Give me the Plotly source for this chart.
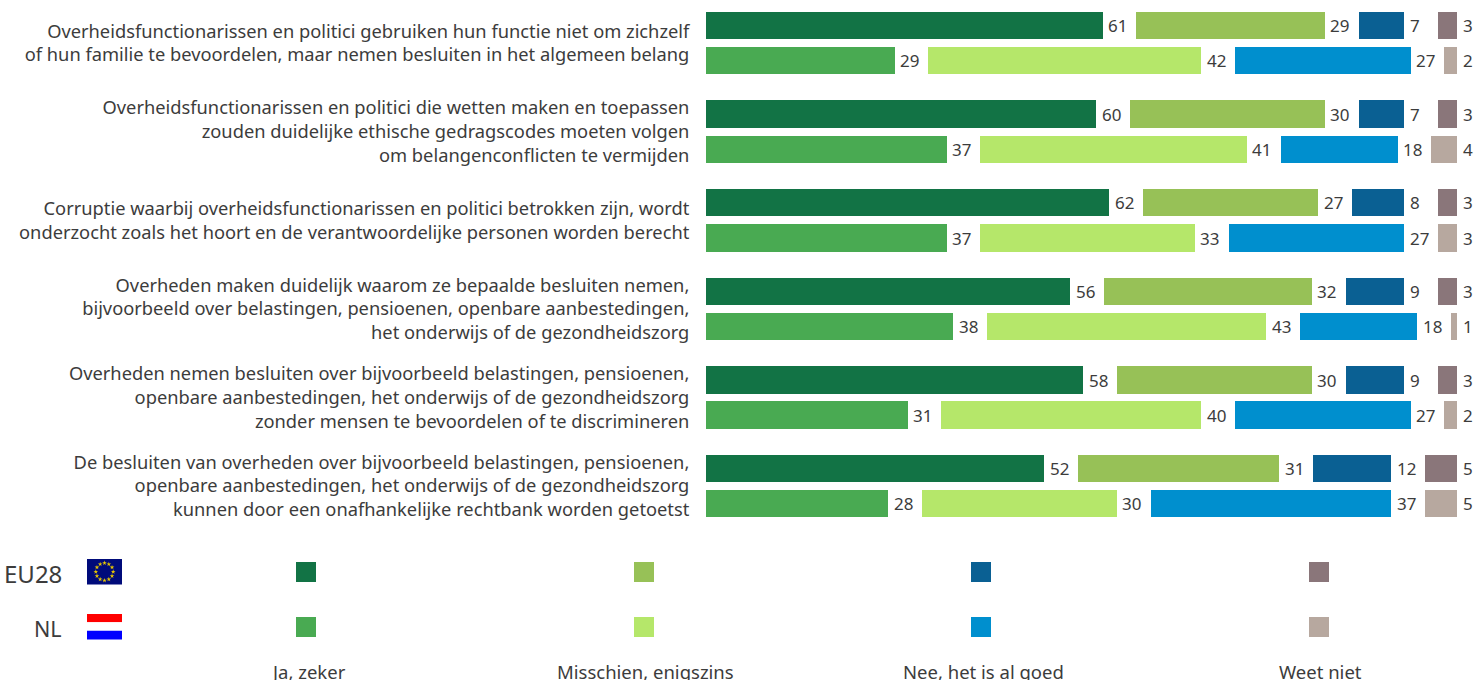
import math
import plotly.graph_objects as go

questions = [
    "Overheidsfunctionarissen en politici gebruiken hun functie niet om zichzelf<br>of hun familie te bevoordelen, maar nemen besluiten in het algemeen belang",
    "Overheidsfunctionarissen en politici die wetten maken en toepassen<br>zouden duidelijke ethische gedragscodes moeten volgen<br>om belangenconflicten te vermijden",
    "Corruptie waarbij overheidsfunctionarissen en politici betrokken zijn, wordt<br>onderzocht zoals het hoort en de verantwoordelijke personen worden berecht",
    "Overheden maken duidelijk waarom ze bepaalde besluiten nemen,<br>bijvoorbeeld over belastingen, pensioenen, openbare aanbestedingen,<br>het onderwijs of de gezondheidszorg",
    "Overheden nemen besluiten over bijvoorbeeld belastingen, pensioenen,<br>openbare aanbestedingen, het onderwijs of de gezondheidszorg<br>zonder mensen te bevoordelen of te discrimineren",
    "De besluiten van overheden over bijvoorbeeld belastingen, pensioenen,<br>openbare aanbestedingen, het onderwijs of de gezondheidszorg<br>kunnen door een onafhankelijke rechtbank worden getoetst",
]
answers = ["Ja, zeker", "Misschien, enigszins", "Nee, het is al goed", "Weet niet"]

eu_ja = [61, 60, 62, 56, 58, 52]
eu_misschien = [29, 30, 27, 32, 30, 31]
eu_nee = [7, 7, 8, 9, 9, 12]
eu_weet = [3, 3, 3, 3, 3, 5]
nl_ja = [29, 37, 37, 38, 31, 28]
nl_misschien = [42, 41, 33, 43, 40, 30]
nl_nee = [27, 18, 27, 18, 27, 37]
nl_weet = [2, 4, 3, 1, 2, 5]

eu_colors = ["#127345", "#97c157", "#0a6093", "#8a767a"]
nl_colors = ["#49aa52", "#b5e76a", "#008fce", "#b7a89f"]

W, H = 1474, 680
X0 = 706
PX_PER_UNIT = 6.5
PAD = 2.5 / PX_PER_UNIT
GAP = 33.8 / PX_PER_UNIT - PAD
TAIL = (W - 1458) / PX_PER_UNIT - PAD
GROUP_PX = 88.6
FIRST_PX = 25.5
PAIR_PX = 35.2
BAR_PX = 27.5
FONT = "Noto Sans"
TEXT = "#3c3c3c"

eu_series = [eu_ja, eu_misschien, eu_nee, eu_weet]
nl_series = [nl_ja, nl_misschien, nl_nee, nl_weet]
n = len(questions)
ys = []
for g in range(n):
    ys += [g, g + PAIR_PX / GROUP_PX]
clear = dict(color="rgba(0,0,0,0)", line_width=0)
bar_w = BAR_PX / GROUP_PX

fig = go.Figure()
for k in range(4):
    vals, cols = [], []
    for g in range(n):
        vals += [eu_series[k][g], nl_series[k][g]]
        cols += [eu_colors[k], nl_colors[k]]
    fig.add_bar(y=ys, x=vals, orientation="h", marker=dict(color=cols, line_width=0),
                width=bar_w, hoverinfo="x", showlegend=False)
    fig.add_bar(y=ys, x=[PAD] * len(ys), orientation="h", marker=clear, width=bar_w,
                hoverinfo="skip", showlegend=False)
    spacer = TAIL if k == 3 else GAP
    fig.add_bar(y=ys, x=[spacer] * len(ys), orientation="h", marker=clear,
                width=bar_w, text=[str(v) for v in vals],
                textposition="inside", insidetextanchor="start", textangle=0,
                constraintext="none", cliponaxis=False,
                insidetextfont=dict(family=FONT, size=17, color=TEXT),
                hoverinfo="skip", showlegend=False)

shapes, annots = [], []
def rect(x0, y0, x1, y1, color):
    shapes.append(dict(type="rect", xref="x2", yref="y2", x0=x0, x1=x1, y0=y0, y1=y1,
                       fillcolor=color, line_width=0, layer="below"))

def text(x, y, s, size, anchor):
    annots.append(dict(xref="x2", yref="y2", x=x, y=y, text=s, showarrow=False,
                       xanchor=anchor, yanchor="middle",
                       font=dict(family=FONT, size=size, color=TEXT)))

for i, x in enumerate([296, 634, 971, 1309]):
    rect(x, 562, x + 20, 582, eu_colors[i])
    rect(x, 617, x + 20, 637, nl_colors[i])
for x, s in zip([308, 645, 983, 1320], answers):
    text(x, 671.5, s, 18.5, "center")
text(63.5, 573, "EU28", 24, "right")
text(63.5, 628, "NL", 21.5, "right")

rect(87, 559, 122, 584.5, "#000b7a")
rect(87, 614, 122, 622.3, "#ff0000")
rect(87, 622.3, 122, 630.8, "#ffffff")
rect(87, 630.8, 122, 639.5, "#0000ff")
star_x = [104.5 + 8.7 * math.cos(i * math.pi / 6) for i in range(12)]
star_y = [571.7 + 8.7 * math.sin(i * math.pi / 6) for i in range(12)]
fig.add_scatter(x=star_x, y=star_y, xaxis="x2", yaxis="y2", mode="markers",
                marker=dict(symbol="star", size=3.5, color="#e8c800", line_width=0),
                hoverinfo="skip", showlegend=False)

fig.update_layout(
    width=W, height=H, barmode="stack", bargap=0,
    margin=dict(l=0, r=0, t=0, b=0, autoexpand=False),
    paper_bgcolor="white", plot_bgcolor="rgba(0,0,0,0)",
    xaxis=dict(domain=[X0 / W, 1], range=[0, (W - X0) / PX_PER_UNIT], visible=False, fixedrange=True),
    yaxis=dict(domain=[0, 1], anchor="x",
               range=[(H - FIRST_PX) / GROUP_PX, -FIRST_PX / GROUP_PX],
               tickmode="array",
               tickvals=[g + PAIR_PX / GROUP_PX / 2 for g in range(n)],
               ticktext=questions, ticks="outside", ticklen=12, tickcolor="rgba(0,0,0,0)",
               showgrid=False, zeroline=False, showline=False, fixedrange=True,
               tickfont=dict(family=FONT, size=18.3, color=TEXT)),
    xaxis2=dict(domain=[0, 1], range=[0, W], visible=False, anchor="y2", fixedrange=True),
    yaxis2=dict(domain=[0, 1], range=[H, 0], visible=False, anchor="x2", fixedrange=True),
    shapes=shapes, annotations=annots,
)
fig.write_html("out.html", config={"displayModeBar": False},
               post_script="document.body.style.margin='0';")
